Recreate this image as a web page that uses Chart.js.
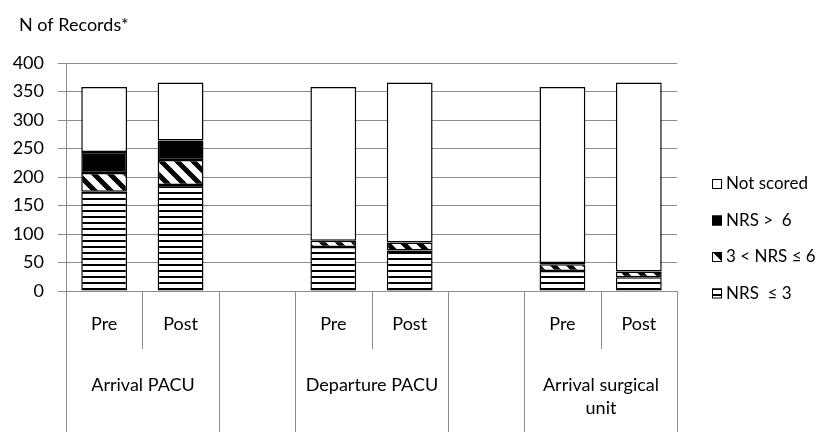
<!DOCTYPE html>
<html>
<head>
<meta charset="utf-8">
<script src="https://cdn.jsdelivr.net/npm/chart.js@4"></script>
<style>
  html, body { margin: 0; padding: 0; background: #fff; }
  canvas { display: block; }
</style>
</head>
<body>
<canvas id="nrsChart" width="827" height="432"></canvas>
<script>
// categories (empty slot = spacer between groups)
const categories = ['Pre', 'Post', '', 'Pre', 'Post', '', 'Pre', 'Post'];
const groups = ['Arrival PACU', 'Arrival PACU', '', 'Departure PACU', 'Departure PACU', '', ['Arrival surgical', 'unit'], ['Arrival surgical', 'unit']];

// series values (N of records)
const nrsLow = [174, 186, null, 77, 71, null, 35, 24];
const nrsMid = [33, 44, null, 11, 14, null, 12, 10];
const nrsHigh = [37, 34, null, 0, 0, null, 2, 0];
const notScored = [114, 102, null, 270, 281, null, 309, 332];

const yTicks = [0, 50, 100, 150, 200, 250, 300, 350, 400];

const FONT = 'Lato';
const GRID = '#8c8c8c';

const ctx = document.getElementById('nrsChart').getContext('2d');

// fill patterns
function tile(w, h, draw) {
    const c = document.createElement('canvas');
    c.width = w; c.height = h;
    const g = c.getContext('2d');
    g.fillStyle = '#fff';
    g.fillRect(0, 0, w, h);
    draw(g);
    return ctx.createPattern(c, 'repeat');
}
const linesPat = tile(8, 6, g => { g.fillStyle = '#000'; g.fillRect(0, 0, 8, 2); });
const diagPat = tile(16, 16, g => {
    g.strokeStyle = '#000';
    g.lineWidth = 5;
    for (let k = -16; k <= 16; k += 16) {
        g.beginPath(); g.moveTo(k - 2, -2); g.lineTo(k + 18, 18); g.stroke();
    }
});

// multi-level category axis, y-axis caption and legend
const extras = {
    id: 'extras',
    afterDraw(chart) {
        const g = chart.ctx;
        const x = chart.scales.x;
        const area = chart.chartArea;
        const slot = x.getPixelForValue(1) - x.getPixelForValue(0);
        const edge = i => Math.round(x.getPixelForValue(0) - slot / 2 + i * slot) + 0.5;
        const same = (a, b) => JSON.stringify(a) === JSON.stringify(b);

        g.save();
        g.strokeStyle = GRID;
        g.lineWidth = 1;
        for (let i = 0; i <= categories.length; i++) {
            let inner = i > 0 && i < categories.length && groups[i] !== '' && same(groups[i], groups[i - 1]);
            g.beginPath();
            g.moveTo(edge(i), area.bottom);
            g.lineTo(edge(i), inner ? area.bottom + 58 : chart.height);
            g.stroke();
        }

        // group labels
        g.fillStyle = '#000';
        g.font = '18px ' + FONT;
        g.textAlign = 'center';
        g.textBaseline = 'middle';
        let start = 0;
        for (let i = 1; i <= categories.length; i++) {
            if (i === categories.length || !same(groups[i], groups[start])) {
                const lab = groups[start];
                if (lab !== '') {
                    const cx = (edge(start) + edge(i)) / 2;
                    const lines = Array.isArray(lab) ? lab : [lab];
                    lines.forEach((t, k) => g.fillText(t, cx, area.bottom + 94 + k * 23));
                }
                start = i;
            }
        }

        // caption
        g.textAlign = 'left';
        g.fillText('N of Records*', 19, 25);

        // legend (reverse order, top = last series)
        g.font = '17px ' + FONT;
        const ds = chart.data.datasets.slice().reverse();
        ds.forEach((d, k) => {
            const y = 184 + k * 36.5;
            g.fillStyle = d.backgroundColor;
            g.fillRect(712, y - 5, 10, 10);
            g.strokeStyle = '#000';
            g.lineWidth = 1;
            g.strokeRect(712.5, y - 4.5, 9, 9);
            g.fillStyle = '#000';
            g.fillText(d.label, 726, y);
        });
        g.restore();
    }
};

new Chart(ctx, {
    type: 'bar',
    data: {
        labels: categories,
        datasets: [
            { label: 'NRS  \u2264 3', data: nrsLow, backgroundColor: linesPat },
            { label: '3 < NRS \u2264 6', data: nrsMid, backgroundColor: diagPat },
            { label: 'NRS >  6', data: nrsHigh, backgroundColor: '#000' },
            { label: 'Not scored', data: notScored, backgroundColor: '#fff' }
        ].map(d => Object.assign(d, {
            borderColor: '#000',
            borderWidth: 1.5,
            borderSkipped: false,
            categoryPercentage: 1,
            barPercentage: 0.6
        }))
    },
    options: {
        responsive: false,
        devicePixelRatio: 1,
        animation: false,
        layout: { padding: { top: 63, right: 150, left: 0, bottom: 0 } },
        plugins: {
            legend: { display: false },
            tooltip: { enabled: false }
        },
        scales: {
            x: {
                stacked: true,
                grid: { display: false, drawTicks: false },
                border: { display: false },
                ticks: {
                    color: '#000',
                    font: { family: FONT, size: 18 },
                    padding: 22,
                    maxRotation: 0,
                    autoSkip: false
                },
                afterFit: s => { s.height = 141; }
            },
            y: {
                stacked: true,
                min: 0,
                max: 400,
                afterBuildTicks: s => { s.ticks = yTicks.map(v => ({ value: v })); },
                grid: { color: GRID, tickLength: 8, tickColor: GRID },
                border: { display: true, color: GRID },
                ticks: {
                    color: '#000',
                    font: { family: FONT, size: 18 },
                    padding: 14
                },
                afterFit: s => { s.width = 66; }
            }
        }
    },
    plugins: [extras]
});
</script>
</body>
</html>
